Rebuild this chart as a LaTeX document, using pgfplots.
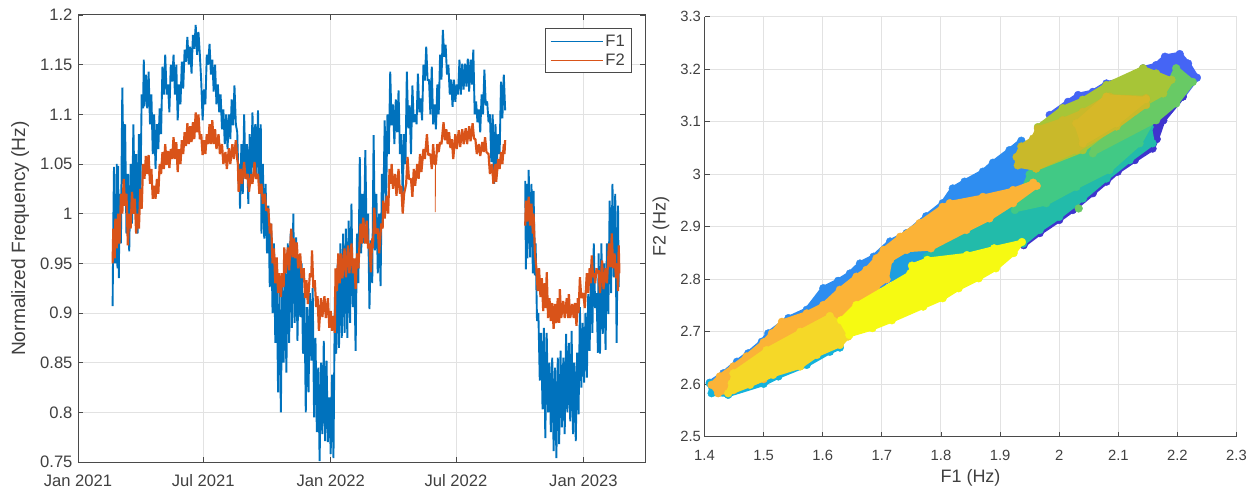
\documentclass[border=0pt]{standalone}
\usepackage{pgfplots}
\pgfplotsset{compat=1.18}
\usepackage{fontspec}
\setmainfont{Liberation Sans}
\definecolor{mblue}{HTML}{0072BD}
\definecolor{morange}{HTML}{D95319}
\definecolor{txt}{HTML}{404040}
\definecolor{axc}{HTML}{4A4A4A}
\definecolor{gr}{HTML}{E2E2E2}
\definecolor{royal}{HTML}{4565F5}
\definecolor{violet}{HTML}{3F34CE}
\definecolor{pblue}{HTML}{2E8DF0}
\definecolor{pcyan}{HTML}{14B2DC}
\definecolor{pcb}{HTML}{1E9EE0}
\definecolor{pteal}{HTML}{22BBAA}
\definecolor{pgreen}{HTML}{41C985}
\definecolor{plgreen}{HTML}{68CA65}
\definecolor{polive}{HTML}{A7C537}
\definecolor{pmust}{HTML}{C9B92A}
\definecolor{pgold}{HTML}{D6B828}
\definecolor{porange}{HTML}{FBB337}
\definecolor{pgy}{HTML}{F5D828}
\definecolor{pyellow}{HTML}{F6FA12}
\pgfplotsset{
  base/.style={
    scale only axis, anchor=south west,
    grid=major, grid style={gr,line width=1pt},
    tick align=inside, major tick length=5pt,
    tick style={axc,line width=.8pt},
    axis line style={axc,line width=1pt},
    ticklabel style={text=txt},
  },
  blob/.style={fill=#1,draw=#1,line width=4.6pt,line join=round,mark=*,mark size=3.9pt,mark options={fill=#1,draw=#1,line width=.4pt,solid}},
}
\begin{document}
\begin{tikzpicture}[x=1pt,y=1pt]
\path[use as bounding box] (0,0) rectangle (1257,491);
\begin{axis}[base,
  at={(78pt,29pt)}, width=567pt, height=447pt,
  xmin=0, xmax=819, ymin=0.75, ymax=1.2,
  xtick={0,181,365,546,730},
  xticklabels={Jan 2021,Jul 2021,Jan 2022,Jul 2022,Jan 2023},
  ytick={0.75,0.8,0.85,0.9,0.95,1,1.05,1.1,1.15,1.2},
  yticklabels={0.75,0.8,0.85,0.9,0.95,1,1.05,1.1,1.15,1.2},
  ticklabel style={font=\fontsize{16.6}{19}\selectfont},
  xticklabel style={yshift=-9pt},
  yticklabel style={xshift=-2pt},
  xtick pos=both, ytick pos=both,
  every axis y label/.style={at={(axis description cs:-0.102,0.5)},rotate=90,anchor=center},
  ylabel={\fontsize{19.2}{21}\selectfont\color{txt}Normalized Frequency (Hz)},
  legend style={at={(axis cs:800.5,1.1865)},anchor=north east,draw=axc,line width=.8pt,
    font=\fontsize{16.6}{19}\selectfont,text=txt,inner xsep=5pt,inner ysep=4pt,cells={anchor=west},row sep=2pt},
  legend image code/.code={\draw[#1,line width=1.5pt] (0pt,0pt) -- (52pt,0pt);},
]
\addplot[mblue,line width=1.9pt,line join=bevel] coordinates {
(50,.907)(51,.99)(52,1.047)(53,.95)(54,1.02)(55,.95)(56,1.05)(57,.945)(58,1.048)(59,.935)
(60,1.02)(62,.97)(64,1.127)(66,1.03)(68,1.09)(70,.98)(72,1.04)(74,.962)(76,1.05)(78,.99)
(80,1.09)(82,1.0)(84,1.06)(86,.98)(88,1.08)(90,1.01)(92,1.12)(94,1.106)(95,1.155)(96,1.108)
(98,1.14)(100,1.106)(102,1.143)(104,1.09)(106,1.12)(108,1.06)(110,1.10)(112,1.045)(114,1.09)(116,1.065)
(118,1.106)(120,1.08)(122,1.148)(124,1.12)(126,1.16)(128,1.12)(130,1.13)(132,1.102)(134,1.15)(136,1.133)
(138,1.16)(140,1.12)(142,1.15)(144,1.094)(146,1.13)(148,1.11)(150,1.153)(152,1.126)(154,1.165)(156,1.153)
(158,1.178)(160,1.15)(162,1.168)(164,1.141)(166,1.18)(168,1.166)(170,1.19)(172,1.16)(174,1.183)(176,1.16)
(178,1.133)(180,1.094)(182,1.125)(184,1.11)(186,1.16)(188,1.15)(190,1.171)(192,1.14)(194,1.155)(196,1.123)
(198,1.15)(200,1.11)(202,1.13)(204,1.102)(206,1.12)(208,1.085)(210,1.105)(212,1.07)(214,1.10)(216,1.065)
(218,1.10)(220,1.075)(222,1.115)(224,1.089)(226,1.129)(228,1.09)(230,1.082)(232,1.03)(233,1.05)(234,1.005)
(236,1.07)(238,1.02)(240,1.10)(242,1.035)(244,1.07)(246,1.01)(248,1.08)(250,1.035)(252,1.102)(254,1.04)
(256,1.09)(258,1.04)(260,1.104)(262,1.02)(264,1.09)(265,.98)(267,1.05)(269,.975)(271,1.03)(273,.96)
(275,1.008)(277,.926)(279,.99)(281,.90)(283,.97)(285,.87)(287,.94)(289,.82)(291,.93)(293,.80)
(295,.93)(297,.85)(299,.943)(301,.84)(303,.97)(305,.87)(307,.98)(309,.885)(311,1.0)(313,.89)
(315,.976)(317,.872)(319,.956)(321,.896)(323,.95)(325,.859)(327,.92)(329,.80)(331,.906)(333,.82)
(335,.92)(337,.852)(339,.925)(341,.795)(343,.875)(345,.78)(347,.845)(349,.751)(351,.85)(353,.778)
(355,.872)(357,.771)(359,.852)(361,.77)(363,.815)(365,.758)(367,.838)(369,.754)(371,.916)(373,.859)
(375,.949)(377,.865)(379,.97)(381,.875)(383,.98)(385,.88)(387,.985)(389,.875)(391,.993)(393,.89)
(395,1.01)(397,.906)(399,.946)(401,.862)(403,.98)(405,.93)(407,1.057)(409,.96)(411,1.02)(413,.97)
(415,1.064)(417,.973)(419,1.0)(421,.904)(423,.973)(425,.93)(427,1.079)(429,.963)(431,1.02)(433,.94)
(435,1.0)(437,.927)(439,1.04)(441,1.006)(443,1.094)(445,1.012)(447,1.10)(449,1.06)(451,1.143)(453,1.089)
(455,1.11)(457,1.07)(459,1.115)(461,1.082)(463,1.124)(465,1.06)(467,1.08)(469,1.018)(471,1.08)(473,1.05)
(475,1.143)(477,1.086)(479,1.109)(481,1.06)(483,1.129)(485,1.092)(487,1.10)(489,1.09)(491,1.141)(493,1.102)
(495,1.116)(497,1.094)(499,1.15)(501,1.134)(503,1.168)(505,1.134)(507,1.135)(509,1.10)(511,1.148)(513,1.09)
(515,1.11)(517,1.085)(519,1.13)(521,1.10)(523,1.16)(525,1.135)(527,1.185)(529,1.158)(531,1.17)(533,1.14)
(535,1.15)(537,1.12)(539,1.135)(541,1.1075)(543,1.135)(545,1.1125)(547,1.13)(549,1.12)(551,1.155)(553,1.12)
(555,1.151)(557,1.125)(559,1.151)(561,1.128)(563,1.156)(565,1.123)(567,1.155)(569,1.13)(571,1.165)(573,1.10)
(575,1.113)(577,1.092)(579,1.105)(581,1.082)(583,1.12)(585,1.10)(587,1.145)(589,1.109)(591,1.113)(593,1.092)
(595,1.10)(597,1.052)(599,1.10)(601,1.03)(603,1.09)(605,1.05)(607,1.08)(609,1.06)(611,1.133)(613,1.096)
(615,1.14)(617,1.104)};
\addlegendentry{F1}
\addplot[mblue,line width=1.9pt,line join=bevel,forget plot] coordinates {
(646,1.033)(647,.944)(648,1.03)(649,.955)(651,1.044)(653,.956)(655,1.03)(657,.94)(658,1.023)(660,.938)
(661,.97)(663,.892)(665,.90)(667,.832)(669,.88)(671,.803)(673,.885)(675,.774)(677,.88)(679,.80)
(681,.85)(683,.78)(685,.855)(687,.761)(689,.845)(691,.754)(693,.855)(695,.768)(697,.862)(699,.785)
(701,.855)(703,.778)(705,.879)(707,.80)(709,.87)(711,.791)(713,.882)(715,.778)(717,.85)(719,.771)
(721,.86)(723,.798)(725,.906)(727,.825)(729,.89)(731,.83)(733,.90)(735,.835)(737,.919)(739,.862)
(741,.949)(743,.88)(745,.97)(747,.905)(749,.92)(751,.86)(752,.96)(754,.859)(756,.97)(758,.879)
(760,.95)(762,.863)(764,.97)(766,.899)(768,1.013)(770,.92)(772,1.03)(774,.936)(776,1.02)(778,.87)
(780,1.008)(781,.926)};
\addplot[morange,line width=2.2pt,line join=bevel] coordinates {
(50,.95)(51,.985)(53,.955)(54,.995)(56,.965)(58,1.0)(60,.97)(62,1.02)(64,1.0)(66,1.035)
(68,1.008)(70,1.02)(72,.968)(74,1.0)(76,.985)(78,1.022)(80,1.0)(82,1.015)(84,.98)(86,1.0)
(88,.985)(90,1.025)(92,1.005)(94,1.05)(96,1.035)(98,1.058)(100,1.04)(102,1.059)(104,1.03)(106,1.045)
(108,1.015)(110,1.028)(112,1.015)(114,1.035)(116,1.02)(118,1.05)(120,1.04)(122,1.062)(124,1.045)(126,1.07)
(128,1.049)(130,1.063)(132,1.046)(134,1.065)(136,1.055)(138,1.077)(140,1.055)(142,1.072)(144,1.042)(146,1.065)
(148,1.05)(150,1.074)(152,1.06)(154,1.082)(156,1.068)(158,1.091)(160,1.07)(162,1.088)(164,1.072)(166,1.092)
(168,1.075)(170,1.102)(172,1.082)(174,1.10)(176,1.075)(178,1.08)(180,1.059)(182,1.074)(184,1.06)(186,1.08)
(188,1.07)(190,1.09)(192,1.07)(194,1.094)(196,1.07)(198,1.085)(200,1.065)(203,1.08)(205,1.06)(208,1.07)
(210,1.05)(213,1.062)(215,1.045)(218,1.066)(220,1.05)(223,1.07)(225,1.055)(228,1.074)(230,1.055)(231,1.05)
(232,1.022)(235,1.045)(237,1.03)(240,1.052)(242,1.035)(245,1.04)(247,1.022)(250,1.04)(252,1.03)(255,1.052)
(257,1.035)(260,1.04)(262,1.02)(265,1.03)(267,1.01)(270,1.02)(272,1.003)(275,1.005)(277,.98)(279,.99)
(281,.95)(283,.965)(285,.93)(287,.956)(289,.92)(291,.94)(293,.916)(295,.94)(297,.926)(298,.966)
(300,.94)(303,.966)(305,.943)(308,.985)(310,.956)(312,.975)(314,.955)(316,.971)(318,.945)(321,.96)
(323,.935)(326,.945)(328,.915)(330,.933)(332,.909)(335,.94)(337,.936)(338,.963)(340,.925)(342,.933)
(344,.906)(346,.917)(348,.882)(351,.915)(353,.896)(356,.917)(358,.895)(361,.915)(363,.885)(365,.902)
(367,.882)(369,.897)(371,.88)(372,.945)(374,.922)(376,.96)(378,.93)(380,.96)(382,.935)(385,.965)
(387,.936)(390,.968)(392,.94)(395,.97)(397,.94)(399,.955)(401,.924)(403,.96)(405,.945)(408,.99)
(410,.97)(412,.996)(415,.97)(417,.993)(419,.965)(421,.97)(423,.941)(425,.975)(426,.965)(428,1.006)
(430,.98)(433,.985)(435,.96)(438,.99)(440,.985)(441,1.013)(443,.995)(446,1.018)(448,1.0)(450,1.045)
(452,1.03)(453,1.05)(455,1.025)(458,1.04)(460,1.018)(463,1.045)(465,1.02)(467,1.028)(469,1.0)(471,1.02)
(474,1.03)(476,1.057)(478,1.035)(481,1.035)(483,1.017)(485,1.045)(487,1.028)(490,1.05)(492,1.035)(494,1.06)
(496,1.042)(499,1.065)(501,1.055)(504,1.08)(506,1.059)(509,1.06)(511,1.045)(513,1.07)(515,1.05)
(517,1.05)(519,1.07)(521,1.062)(523,1.072)(525,1.07)(528,1.092)(530,1.074)(532,1.085)(534,1.07)(536,1.082)
(538,1.066)(540,1.075)(542,1.055)(545,1.08)(547,1.065)(550,1.084)(552,1.067)(555,1.085)(557,1.07)(560,1.086)
(562,1.07)(565,1.088)(567,1.073)(570,1.091)(572,1.0755)(574,1.075)(576,1.06)(579,1.07)(581,1.058)(584,1.072)
(586,1.062)(588,1.077)(590,1.062)(593,1.06)(595,1.04)(598,1.05)(600,1.03)(603,1.05)(604,1.032)(607,1.055)
(609,1.045)(611,1.062)(613,1.05)(615,1.07)(616,1.06)(617,1.074)};
\addlegendentry{F2}
\addplot[morange,line width=.8pt,forget plot] coordinates {(516,1.045)(516,1.0015)(516.5,1.05)};
\addplot[morange,line width=2.2pt,line join=bevel,forget plot] coordinates {
(646,.988)(647,1.013)(649,.992)(651,1.017)(653,.988)(655,1.01)(657,.98)(658,1.0)(660,.96)(662,.946)
(664,.922)(666,.945)(668,.916)(670,.935)(672,.902)(674,.93)(676,.905)(677,.941)(679,.895)(681,.915)
(683,.892)(685,.91)(687,.884)(689,.909)(691,.89)(693,.915)(695,.89)(696,.924)(698,.895)(701,.912)
(703,.895)(706,.915)(708,.895)(709,.919)(711,.895)(714,.909)(716,.895)(718,.91)(720,.887)(722,.915)
(723,.90)(725,.936)(727,.915)(730,.92)(732,.905)(735,.94)(737,.92)(739,.945)(741,.93)(742,.958)
(744,.936)(746,.94)(747,.93)(749,.945)(751,.94)(752,.943)(754,.92)(757,.953)(759,.924)(762,.945)
(764,.93)(767,.97)(769,.946)(771,.98)(773,.945)(775,.96)(777,.935)(779,.95)(780,.922)(781,.968)(782,.94)};
\end{axis}
\begin{axis}[base,clip marker paths=true,
  at={(704.5pt,54.2pt)}, width=532pt, height=420pt,
  xmin=1.4, xmax=2.3, ymin=2.5, ymax=3.3,
  xtick={1.4,1.5,...,2.25,2.3}, ytick={2.5,2.6,...,3.25,3.3},
  xticklabels={1.4,1.5,1.6,1.7,1.8,1.9,2,2.1,2.2,2.3},
  yticklabels={2.5,2.6,2.7,2.8,2.9,3,3.1,3.2,3.3},
  ticklabel style={font=\fontsize{14.8}{17}\selectfont},
  xticklabel style={yshift=-9.5pt},
  axis x line*=bottom, axis y line*=left,
  every axis y label/.style={at={(axis description cs:-0.0818,0.5)},rotate=90,anchor=center},
  every axis x label/.style={at={(axis description cs:0.5,-0.0976)},anchor=center},
  xlabel={\fontsize{18}{19}\selectfont\color{txt}F1 (Hz)},
  ylabel={\fontsize{18}{19}\selectfont\color{txt}F2 (Hz)},
]
\addplot[blob=royal] coordinates {(1.984,3.113)(2.015,3.138)(2.032,3.151)(2.057,3.157)(2.08,3.173)(2.108,3.18)(2.142,3.202)(2.164,3.208)(2.179,3.224)(2.204,3.229)(2.218,3.211)(2.233,3.184)(2.209,3.148)(2.176,3.103)(2.12,3.03)(2.0,3.03)} --cycle;
\addplot[blob=violet] coordinates {(2.209,3.148)(2.176,3.103)(2.165,3.067)(2.158,3.049)(2.128,3.027)(2.099,3.005)(2.08,2.986)(2.057,2.964)(2.023,2.932)(2.0,2.913)(1.967,2.888)(1.94,2.865)(1.984,3.0)(2.097,3.097)} --cycle;
\addplot[blob=pblue] coordinates {(1.409,2.603)(1.432,2.621)(1.455,2.643)(1.474,2.659)(1.497,2.681)(1.508,2.697)(1.542,2.726)(1.573,2.742)(1.601,2.783)(1.626,2.797)(1.646,2.811)(1.663,2.83)(1.686,2.843)(1.714,2.872)(1.742,2.888)(1.775,2.92)(1.803,2.945)(1.82,2.973)(1.84,2.986)(1.871,3.005)(1.888,3.022)(1.916,3.046)(1.936,3.064)(1.95,3.04)(1.972,3.008)(2.0,3.0)(1.9,2.92)(1.7,2.79)(1.45,2.6)} --cycle;
\addplot[blob=pcyan] coordinates {(1.409,2.602)(1.412,2.583)(1.44,2.58)(1.5,2.601)(1.525,2.615)(1.573,2.637)(1.612,2.662)(1.629,2.67)(1.6,2.68)(1.45,2.61)} --cycle;
\addplot[blob=pcb] coordinates {(1.69,2.80)(1.72,2.84)(1.76,2.865)(1.80,2.88)(1.80,2.84)(1.74,2.80)} --cycle;
\addplot[blob=pteal] coordinates {(1.776,2.843)(1.815,2.90)(1.871,2.919)(1.927,2.951)(1.978,2.989)(2.085,3.05)(2.153,3.09)(2.158,3.059)(2.119,3.027)(2.08,2.992)(2.04,2.954)(2.0,2.919)(1.967,2.894)(1.939,2.868)(1.85,2.82)} --cycle;
\addplot[blob=pgreen] coordinates {(1.925,2.932)(1.95,3.0)(1.96,3.03)(2.06,3.09)(2.14,3.13)(2.158,3.103)(2.136,3.059)(2.085,3.008)(2.029,2.976)(1.978,2.945)} --cycle;
\addplot[blob=plgreen] coordinates {(2.057,3.04)(2.164,3.103)(2.198,3.135)(2.226,3.176)(2.198,3.202)(2.181,3.161)(2.136,3.11)(2.057,3.059)} --cycle;
\addplot[only marks,mark=*,mark size=3.9pt,mark options={fill=plgreen,draw=plgreen}] coordinates {(2.033,2.935)};
\addplot[blob=polive] coordinates {(1.964,3.09)(2.006,3.126)(2.04,3.142)(2.08,3.17)(2.142,3.202)(2.164,3.192)(2.19,3.18)(2.176,3.154)(2.125,3.122)(2.04,3.046)(1.961,3.011)} --cycle;
\addplot[blob=pmust] coordinates {(1.928,3.033)(1.936,3.053)(1.956,3.068)(1.964,3.087)(2.006,3.103)(2.04,3.119)(2.085,3.148)(2.147,3.145)(2.147,3.132)(2.097,3.091)(2.029,3.046)(1.961,3.011)(1.93,3.017)} --cycle;
\addplot[blob=pgold] coordinates {(2.029,3.097)(2.08,3.148)(2.147,3.143)(2.097,3.097)(2.04,3.059)} --cycle;
\addplot[blob=porange] coordinates {(1.412,2.599)(1.426,2.615)(1.449,2.634)(1.471,2.653)(1.5,2.68)(1.514,2.697)(1.531,2.719)(1.573,2.735)(1.601,2.751)(1.629,2.78)(1.657,2.805)(1.674,2.818)(1.691,2.84)(1.703,2.856)(1.731,2.881)(1.764,2.907)(1.803,2.938)(1.815,2.945)(1.871,2.957)(1.922,2.97)(1.956,2.984)(1.962,2.978)(1.922,2.945)(1.882,2.916)(1.843,2.894)(1.783,2.859)(1.742,2.856)(1.714,2.837)(1.708,2.80)(1.69,2.785)(1.629,2.69)(1.5,2.61)(1.449,2.589)(1.423,2.583)} --cycle;
\addplot[blob=pgy] coordinates {(1.446,2.602)(1.449,2.621)(1.505,2.665)(1.562,2.70)(1.612,2.73)(1.635,2.71)(1.643,2.691)(1.629,2.675)(1.59,2.656)(1.562,2.634)(1.516,2.618)(1.477,2.599)(1.44,2.583)} --cycle;
\addplot[blob=pyellow] coordinates {(1.631,2.722)(1.657,2.751)(1.748,2.811)(1.751,2.826)(1.777,2.837)(1.844,2.846)(1.89,2.859)(1.937,2.871)(1.923,2.85)(1.893,2.821)(1.864,2.802)(1.83,2.783)(1.803,2.764)(1.77,2.748)(1.717,2.722)(1.684,2.707)(1.645,2.694)} --cycle;
\end{axis}
\end{tikzpicture}
\end{document}
